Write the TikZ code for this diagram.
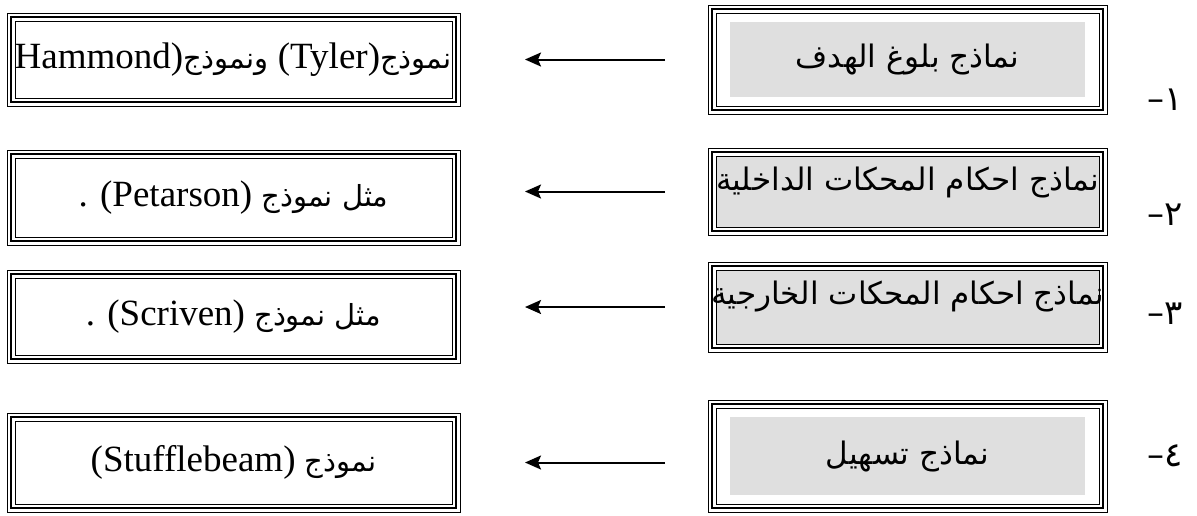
\documentclass[tikz,border=0pt]{standalone}
\usepackage{fontspec}
\setmainfont{Liberation Serif}
\newfontfamily\arabicfont[Script=Arabic]{DejaVu Sans}
\TeXXeTstate=1
\usetikzlibrary{arrows.meta}

\definecolor{boxgray}{HTML}{DFDFDF}

% thin-thick-thin border round a named node
\newcommand\tripleframe[1]{%
  \draw[line width=0.5pt] ([shift={(-2pt,2pt)}]#1.north west) rectangle ([shift={(2pt,-2pt)}]#1.south east);
  \draw[line width=0.5pt] ([shift={(2pt,-2pt)}]#1.north west) rectangle ([shift={(-2pt,2pt)}]#1.south east);
}
\newcommand\ar[1]{{\arabicfont\fontsize{14.5}{16}\selectfont\beginR #1\endR}}

\tikzset{
  frame/.style={draw, line width=1.4pt, inner sep=0pt, outer sep=0pt},
  leftbox/.style={frame, minimum width=222.5pt},
  rightbox/.style={frame, minimum width=195.5pt},
  grayin/.style 2 args={path picture={\fill[boxgray]
      ([shift={(#1,-#2)}]path picture bounding box.north west) rectangle
      ([shift={(-#1,#2)}]path picture bounding box.south east);}},
  latin/.style={font=\fontsize{18.5}{21}\selectfont},
  arab/.style={font=\arabicfont\fontsize{15.5}{18}\selectfont},
  num/.style={font=\arabicfont\fontsize{17}{19}\selectfont},
  link/.style={-{Stealth[length=8pt,width=7pt,inset=1.5pt]}, line width=1pt},
}

\begin{document}
\begin{tikzpicture}[x=0.5pt, y=-0.5pt]
  \useasboundingbox (0,0) rectangle (1197,515);

  % left column: examples
  \node[leftbox, minimum height=42.5pt, latin] (tyler) at (233.5,59.5)
    {\makebox[218pt][r]{Hammond)\ar{ونموذج} (Tyler)\ar{نموذج}}};
  \node[leftbox, minimum height=43.5pt, latin] (petarson) at (233.5,197.5)
    {. (Petarson) \ar{مثل نموذج}};
  \node[leftbox, minimum height=42.5pt, latin] (scriven) at (233.5,316.5)
    {. (Scriven) \ar{مثل نموذج}};
  \node[leftbox, minimum height=45.5pt, latin] (stuffle) at (233.5,462.5)
    {(Stufflebeam) \ar{نموذج}};
  \foreach \n in {tyler,petarson,scriven,stuffle} {\tripleframe{\n}}

  % right column: model families
  \node[rightbox, minimum height=50.5pt, grayin={9pt}{6.5pt}] (goal) at (907.5,59.5) {};
  \node[rightbox, minimum height=39.5pt, grayin={2pt}{2pt}] (internal) at (907.5,191.5) {};
  \node[rightbox, minimum height=41pt, grayin={2pt}{2pt}] (external) at (907.5,307) {};
  \node[rightbox, minimum height=52pt, grayin={9pt}{6.5pt}] (facil) at (907.5,456) {};
  \foreach \n in {goal,internal,external,facil} {\tripleframe{\n}}

  \node[arab] (goaltext) at (goal.center) {\beginR نماذج بلوغ الهدف\endR};
  \node[arab, anchor=north] (internaltext) at ([yshift=-4pt]internal.north)
    {\beginR نماذج احكام المحكات الداخلية\endR};
  \node[arab, anchor=north] (externaltext) at ([yshift=-4pt]external.north)
    {\beginR نماذج احكام المحكات الخارجية\endR};
  \node[arab] (faciltext) at (facil.center) {\beginR نماذج تسهيل\endR};

  % numbering
  \node[num] (n1) at (1165,100) {\beginR ١–\endR};
  \node[num] (n2) at (1165,215) {\beginR ٢–\endR};
  \node[num] (n3) at (1165,314) {\beginR ٣–\endR};
  \node[num] (n4) at (1165,456) {\beginR ٤–\endR};

  % arrows
  \draw[link, shorten <=23.5pt, shorten >=34.5pt] (goal.west) -- (goal.west -| tyler.east);
  \draw[link, shorten <=23.5pt, shorten >=34.5pt] (internal.west) -- (internal.west -| petarson.east);
  \draw[link, shorten <=23.5pt, shorten >=34.5pt] (external.west) -- (external.west -| scriven.east);
  \draw[link, shorten <=23.5pt, shorten >=34.5pt] (stuffle.east -| facil.west) -- (stuffle.east);
\end{tikzpicture}
\end{document}
